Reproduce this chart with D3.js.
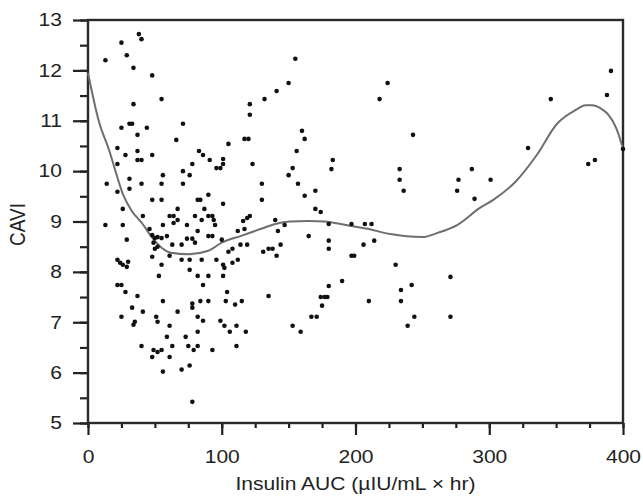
<!DOCTYPE html>
<html>
<head>
<meta charset="utf-8">
<script src="https://cdn.jsdelivr.net/npm/d3@7"></script>
<style>
  body { margin: 0; background: #fff; }
  text { font-family: "Liberation Sans", Arial, sans-serif; fill: #222; }
</style>
</head>
<body>
<script>
// scatter: insulin AUC vs CAVI
const insulin = [13,25,29,34,38,40,48,55,34,25,31,33,44,37,71,66,22,28,37,37,40,48,22,83,86,91,78,96,71,76,56,31,
  141,132,121,121,117,120,105,101,101,99,123,153,150,157,14,31,40,55,71,130,22,90,48,55,82,84,101,130,26,67,87,
  41,61,64,67,80,90,93,94,85,121,119,116,13,26,46,56,64,74,95,140,147,82,112,117,142,59,90,93,48,50,52,55,29,
  49,52,50,63,70,74,78,80,100,114,119,144,108,105,131,135,138,48,61,22,24,26,29,30,55,70,76,85,96,112,108,101,
  102,141,76,53,82,90,101,22,25,86,37,104,135,56,84,90,103,110,115,33,78,78,28,25,41,35,34,51,52,67,82,86,61,
  99,102,111,106,118,82,59,73,40,63,75,82,111,49,52,55,79,93,48,61,70,76,56,78,153,159,155,150,224,218,160,162,
  156,243,183,182,162,170,233,233,236,287,277,276,289,170,174,180,197,207,212,165,180,180,214,206,197,199,230,
  271,190,180,234,242,174,177,179,175,210,234,167,171,244,271,239,391,388,346,329,301,374,379,400];
const cavi = [12.2,12.55,12.3,12.05,12.72,12.62,11.9,11.43,11.33,10.86,10.94,10.94,10.86,10.72,10.94,10.62,10.46,
  10.32,10.4,10.22,10.22,10.32,10.14,10.4,10.32,10.22,10.14,10.06,10.0,9.92,9.92,9.85,
  11.59,11.43,11.33,11.12,10.64,10.64,10.54,10.24,10.14,10.06,10.14,10.06,9.92,9.75,9.75,9.65,9.75,9.75,9.75,
  9.75,9.59,9.53,9.43,9.43,9.43,9.43,9.35,9.43,9.25,9.25,9.25,9.11,9.11,9.11,9.03,9.11,9.11,9.11,9.03,9.03,
  9.11,9.07,9.01,8.93,8.93,8.85,8.93,8.97,8.93,8.93,9.03,8.93,8.81,8.81,8.85,8.81,8.71,8.71,8.71,8.73,8.67,
  8.69,8.67,8.64,8.58,8.5,8.46,8.54,8.54,8.66,8.66,8.58,8.64,8.54,8.54,8.54,8.46,8.4,8.4,8.46,8.46,8.3,8.32,
  8.24,8.18,8.14,8.1,8.2,8.14,8.24,8.24,8.24,8.24,8.24,8.18,8.14,8.08,8.32,8.04,7.92,7.92,7.92,7.92,7.74,7.74,
  7.74,7.52,7.6,7.52,7.42,7.42,7.42,7.42,7.35,7.42,7.29,7.37,7.29,7.6,7.11,7.21,7.01,6.95,7.11,7.01,7.21,7.11,
  7.03,6.93,7.03,6.93,6.93,6.81,6.81,6.81,6.71,6.71,6.53,6.53,6.53,6.53,6.53,6.45,6.41,6.45,6.45,6.45,6.31,
  6.31,6.06,6.14,6.02,5.42,6.93,6.81,12.23,11.75,11.75,11.43,10.8,10.64,10.4,10.72,10.22,10.04,9.51,9.61,
  10.04,9.83,9.61,10.04,9.83,9.61,9.45,9.25,9.19,8.95,8.95,8.95,8.95,8.71,8.62,8.46,8.62,8.54,8.32,8.32,8.14,
  7.9,7.82,7.72,7.64,7.74,7.5,7.5,7.5,7.33,7.42,7.42,7.11,7.11,7.11,7.11,6.93,11.99,11.51,11.43,10.46,9.83,
  10.14,10.22,10.44];

// smoothed fit line
const fitX = [0,8,16,20,26,33,40,48,55,62,75,90,100,115,130,140,151,165,177,193,210,226,250,262,276,293,303,
  320,335,351,365,372,377,383,389,395,400];
const fitY = [11.95,11.0,10.4,10.05,9.55,9.2,8.98,8.68,8.48,8.38,8.35,8.42,8.58,8.72,8.86,8.95,9.0,9.01,9.0,
  8.93,8.85,8.75,8.69,8.78,8.93,9.27,9.43,9.8,10.3,10.95,11.22,11.31,11.31,11.25,11.12,10.85,10.45];

const xTicks = [0, 100, 200, 300, 400];
const yTicks = [5, 6, 7, 8, 9, 10, 11, 12, 13];

const W = 643, H = 497;
const m = {left: 88, top: 20, right: 20, bottom: 74};
const iw = W - m.left - m.right, ih = H - m.top - m.bottom;
const sx = 1.17; // text in the original is a bit wide

const svg = d3.select("body").append("svg")
  .attr("width", W).attr("height", H);

const x = d3.scaleLinear().domain([0, 400]).range([0, iw]);
const y = d3.scaleLinear().domain([5, 13]).range([ih, 0]);

const g = svg.append("g").attr("transform", `translate(${m.left},${m.top})`);

// minor ticks
g.append("g").attr("transform", `translate(0,${ih})`)
  .call(d3.axisBottom(x).tickValues(d3.range(0, 401, 25)).tickSize(5).tickFormat(""))
  .call(a => a.select(".domain").remove());
g.append("g")
  .call(d3.axisLeft(y).tickValues(d3.range(5, 13.01, 0.5)).tickSize(8).tickFormat(""))
  .call(a => a.select(".domain").remove());

// major ticks + labels
g.append("g").attr("transform", `translate(0,${ih})`)
  .call(d3.axisBottom(x).tickValues(xTicks).tickSize(12).tickPadding(15))
  .call(a => a.select(".domain").remove())
  .selectAll(".tick text").attr("transform", `scale(${sx},1)`);
g.append("g")
  .call(d3.axisLeft(y).tickValues(yTicks).tickSize(15).tickPadding(10))
  .call(a => a.select(".domain").remove())
  .selectAll(".tick text").attr("x", -26 / sx).attr("transform", `scale(${sx},1)`);

g.selectAll(".tick line").attr("stroke", "#222").attr("stroke-width", 2.2);
g.selectAll(".tick text").style("font-size", "18px").attr("fill", "#222");

// frame
g.append("rect").attr("width", iw).attr("height", ih)
  .attr("fill", "none").attr("stroke", "#2a2a2a").attr("stroke-width", 2.4);

// fit curve
g.append("path")
  .datum(fitX.map((d, i) => [d, fitY[i]]))
  .attr("fill", "none").attr("stroke", "#6e6e6e").attr("stroke-width", 2)
  .attr("d", d3.line().x(d => x(d[0])).y(d => y(d[1])).curve(d3.curveMonotoneX));

// points
g.selectAll("circle.pt")
  .data(insulin.map((d, i) => [d, cavi[i]]))
  .enter().append("circle").attr("class", "pt")
  .attr("cx", d => x(d[0])).attr("cy", d => y(d[1]))
  .attr("r", 2.3).attr("fill", "#111");

// titles
svg.append("text")
  .attr("transform", `translate(${m.left + iw / 2},490) scale(${sx},1)`)
  .attr("text-anchor", "middle").style("font-size", "18px")
  .text("Insulin AUC (\u00b5IU/mL \u00d7 hr)");
svg.append("text")
  .attr("transform", `translate(25,${m.top + ih / 2 + 3}) rotate(-90) scale(1,${sx})`)
  .attr("text-anchor", "middle").style("font-size", "19px")
  .text("CAVI");
</script>
</body>
</html>
